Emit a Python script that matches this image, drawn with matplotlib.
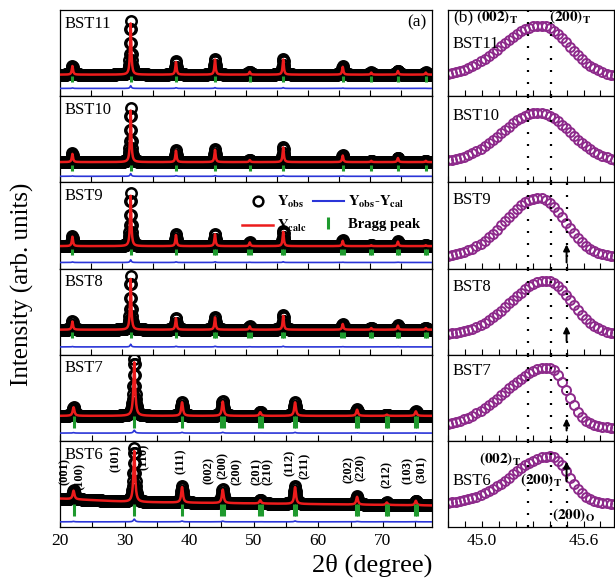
import numpy as np
import matplotlib
matplotlib.use("Agg")
import matplotlib.pyplot as plt
from matplotlib import ticker
from matplotlib.lines import Line2D

plt.rcParams["font.family"] = ["Liberation Serif", "DejaVu Serif"]
plt.rcParams["mathtext.fontset"] = "stix"

SAMPLES = ["BST11", "BST10", "BST9", "BST8", "BST7", "BST6"]

# ---- (a) full scans, heights in panel fraction ----
X_END = [80.0, 80.0, 80.0, 80.0, 77.6, 77.6]
PEAK_POS_A = [22.0, 31.4, 38.7, 45.0, 50.6, 56.0, 65.6, 70.2, 74.5, 79.0]
PEAK_POS_B = [22.1, 31.5, 38.9, 45.2, 51.0, 56.4, 66.0, 70.6, 75.1]
H_BST11 = [0.105, 0.625, 0.155, 0.185, 0.035, 0.185, 0.095, 0.025, 0.045, 0.025]
H_BST10 = [0.10, 0.63, 0.14, 0.15, 0.025, 0.18, 0.08, 0.015, 0.05, 0.015]
H_BST9 = [0.115, 0.615, 0.135, 0.145, 0.045, 0.175, 0.065, 0.01, 0.055, 0.01]
H_BST8 = [0.10, 0.62, 0.14, 0.15, 0.04, 0.17, 0.07, 0.02, 0.05, 0.02]
H_BST7 = [0.105, 0.655, 0.165, 0.175, 0.045, 0.165, 0.075, 0.015, 0.055]
H_BST6 = [0.105, 0.625, 0.19, 0.165, 0.04, 0.205, 0.095, 0.03, 0.055]
HEIGHTS = [H_BST11, H_BST10, H_BST9, H_BST8, H_BST7, H_BST6]
PEAK_W = [0.12, 0.12, 0.12, 0.12, 0.16, 0.16]
# background at 20 deg, 31 deg, end of scan
BG_START = [0.25, 0.235, 0.26, 0.29, 0.29, 0.33]
BG_MID = [0.25, 0.235, 0.26, 0.29, 0.29, 0.29]
BG_END = [0.25, 0.235, 0.26, 0.29, 0.29, 0.25]
DIFF_LEVEL = [0.09, 0.07, 0.07, 0.09, 0.09, 0.06]
BRAGG_Y = [0.20, 0.17, 0.195, 0.23, 0.22, 0.20]

BRAGG_CUBIC = [22.0, 31.4, 38.7, 45.0, 50.6, 56.0, 65.6, 70.2, 74.5, 79.0]
BRAGG_SPLIT_A = [22.0, 31.4, 38.7, 44.8, 45.15, 50.4, 50.8, 55.8, 56.2, 65.4, 65.8,
                 70.0, 70.4, 74.3, 74.7, 78.8, 79.2]
BRAGG_SPLIT_B = [22.1, 31.5, 38.9, 45.0, 45.35, 50.8, 51.2, 56.2, 56.6, 65.8, 66.2,
                 70.4, 70.8, 74.9, 75.3]
BRAGG = [BRAGG_CUBIC, BRAGG_CUBIC, BRAGG_SPLIT_A, BRAGG_SPLIT_A, BRAGG_SPLIT_B, BRAGG_SPLIT_B]

HKL_LABELS = ["(001)", "(100)", "(101)", "(110)", "(111)", "(002)", "(200)", "(200)",
              "(201)", "(210)", "(112)", "(211)", "(202)", "(220)", "(212)", "(103)", "(301)"]
HKL_X = [20.8, 23.1, 28.7, 32.9, 38.7, 43.1, 45.2, 47.4, 50.5, 52.2, 55.6, 57.9,
         64.7, 66.6, 70.6, 73.9, 76.0]
HKL_Y = [0.64, 0.59, 0.79, 0.81, 0.76, 0.65, 0.71, 0.64, 0.64, 0.64, 0.75, 0.71,
         0.67, 0.69, 0.61, 0.65, 0.67]

# ---- (b) zoom on the (002)/(200) region ----
R_BASE = [0.22, 0.23, 0.13, 0.23, 0.15, 0.27]
R_CEN = [45.345, 45.33, 45.335, 45.38, 45.39, 45.40]
R_HGT = [0.60, 0.58, 0.69, 0.63, 0.70, 0.55]
R_SIG_L = [0.23, 0.21, 0.20, 0.21, 0.25, 0.22]
R_SIG_R = [0.17, 0.19, 0.155, 0.15, 0.11, 0.11]
DOT_LINES = [45.27, 45.41]
ORTHO_LINE = 45.50
R_LABEL_Y = [0.60, 0.77, 0.80, 0.78, 0.81, 0.53]
ARROWS = {2: (0.07, 0.28), 3: (0.16, 0.33), 4: (0.12, 0.26), 5: (0.53, 0.76)}

RED = "#ec1c1c"
BLUE = "#2a35d8"
GREEN = "#1f9a2e"
PURPLE = "#8d2a8b"

fig = plt.figure(figsize=(6.15, 5.8), dpi=100)
TOP = 1 - 10 / 580
ROW_H = 517 / 580 / 6
LX, LW = 60 / 615, 372 / 615
RX, RW = 448 / 615, 166 / 615


def lorentz(x, pos, h, w):
    return h / (1 + ((x - pos) / w) ** 2)


for i, name in enumerate(SAMPLES):
    y0 = TOP - (i + 1) * ROW_H
    ax = fig.add_axes([LX, y0, LW, ROW_H])
    x = np.arange(20.0, X_END[i] + 0.01, 0.05)
    bg = np.interp(x, [20, 31, X_END[i]], [BG_START[i], BG_MID[i], BG_END[i]])
    pos = PEAK_POS_A if i < 4 else PEAK_POS_B
    obs = bg.copy()
    cal = bg.copy()
    for p, h in zip(pos, HEIGHTS[i]):
        obs += lorentz(x, p, h, PEAK_W[i])
        cal += lorentz(x, p, 0.95 * h, PEAK_W[i])
    ax.plot(x, obs, "o", ms=7.5, mfc="none", mec="black", mew=1.8, zorder=2)
    ax.plot(x, cal, color=RED, lw=1.8, zorder=3)
    ax.plot(x, obs - cal + DIFF_LEVEL[i], color=BLUE, lw=1.2, zorder=3)
    ax.plot(BRAGG[i], [BRAGG_Y[i]] * len(BRAGG[i]), "|", color=GREEN,
            ms=5 if i < 4 else 8, mew=2.2, zorder=4)
    ax.set_xlim(20, X_END[i])
    ax.set_ylim(0, 1)
    ax.set_yticks([])
    ax.xaxis.set_major_locator(ticker.MultipleLocator(10))
    ax.xaxis.set_minor_locator(ticker.MultipleLocator(5))
    ax.tick_params(axis="x", which="both", direction="in", length=4, width=0.8,
                   labelsize=12.5, pad=4)
    if i < 5:
        ax.tick_params(axis="x", labelbottom=False)
    ax.text(0.012, 0.84, name, transform=ax.transAxes, fontsize=12, va="center")
    for sp in ax.spines.values():
        sp.set_linewidth(0.9)

    if i == 0:
        ax.text(0.985, 0.86, "(a)", transform=ax.transAxes, fontsize=12.5,
                ha="right", va="center")
    if i == 2:
        handles = [
            Line2D([], [], ls="none", marker="o", ms=7, mfc="none", mec="black", mew=1.8),
            Line2D([], [], color=RED, lw=1.8),
            Line2D([], [], color=BLUE, lw=1.5),
            Line2D([], [], ls="none", marker="|", ms=8, mew=2.2, color=GREEN),
        ]
        labels = [r"$\mathbf{Y_{obs}}$", r"$\mathbf{Y_{calc}}$",
                  r"$\mathbf{Y_{obs}}$-$\mathbf{Y_{cal}}$", "Bragg peak"]
        ax.legend(handles, labels, ncol=2, loc="upper left", bbox_to_anchor=(0.455, 1.02),
                  frameon=False, prop={"weight": "bold", "size": 10.5},
                  handlelength=2.1, handletextpad=0.3, columnspacing=0.4,
                  labelspacing=0.55)
    if i == 5:
        for lab, hx, hy in zip(HKL_LABELS, HKL_X, HKL_Y):
            ax.text(hx, hy, lab, rotation=90, fontsize=9, fontweight="bold",
                    ha="center", va="center", transform=ax.get_xaxis_transform())

    # ---- right panel ----
    axr = fig.add_axes([RX, y0, RW, ROW_H])
    xr = np.arange(44.80, 45.80, 0.024)
    sig = np.where(xr < R_CEN[i], R_SIG_L[i], R_SIG_R[i])
    yr = R_BASE[i] + R_HGT[i] * np.exp(-0.5 * ((xr - R_CEN[i]) / sig) ** 2)
    axr.plot(xr, yr, "o", ms=6.5, mfc="none", mec=PURPLE, mew=1.4, zorder=2)
    lines = DOT_LINES + ([ORTHO_LINE] if i >= 2 else [])
    for lx in lines:
        axr.axvline(lx, color="black", lw=1.6, ls=(0, (0.9, 4.5)), zorder=3)
    if i in ARROWS:
        yb, yt = ARROWS[i]
        axr.annotate("", xy=(ORTHO_LINE, yt), xytext=(ORTHO_LINE, yb),
                     xycoords=("data", "axes fraction"),
                     textcoords=("data", "axes fraction"),
                     arrowprops=dict(arrowstyle="-|>", color="black", lw=1.4,
                                     mutation_scale=9, shrinkA=0, shrinkB=0),
                     zorder=4)
    axr.set_xlim(44.80, 45.78)
    axr.set_ylim(0, 1)
    axr.set_yticks([])
    axr.xaxis.set_major_locator(ticker.MultipleLocator(0.6))
    axr.xaxis.set_minor_locator(ticker.MultipleLocator(0.1))
    axr.xaxis.set_major_formatter(ticker.FormatStrFormatter("%.1f"))
    axr.tick_params(axis="x", which="both", direction="in", length=4, width=0.8,
                    labelsize=12.5, pad=4)
    if i < 5:
        axr.tick_params(axis="x", labelbottom=False)
    for sp in axr.spines.values():
        sp.set_linewidth(0.9)
    axr.text(0.03, R_LABEL_Y[i], name, transform=axr.transAxes, fontsize=12, va="center")
    if i == 0:
        axr.text(0.03, 0.92, "(b)", transform=axr.transAxes, fontsize=12.5, va="center")
        axr.text(45.09, 0.93, r"$\mathbf{(002)_T}$", fontsize=11, ha="center",
                 va="center", transform=axr.get_xaxis_transform(), zorder=5)
        axr.text(45.52, 0.93, r"$\mathbf{(200)_T}$", fontsize=11, ha="center",
                 va="center", transform=axr.get_xaxis_transform(), zorder=5)
    if i == 5:
        axr.text(45.11, 0.79, r"$\mathbf{(002)_T}$", fontsize=11, ha="center",
                 va="center", transform=axr.get_xaxis_transform(), zorder=5)
        axr.text(45.35, 0.55, r"$\mathbf{(200)_T}$", fontsize=11, ha="center",
                 va="center", transform=axr.get_xaxis_transform(), zorder=5)
        axr.text(45.54, 0.14, r"$\mathbf{(200)_O}$", fontsize=11, ha="center",
                 va="center", transform=axr.get_xaxis_transform(), zorder=5)

fig.text(0.605, 0.026, "2θ (degree)", fontsize=19, ha="center", va="center")
fig.text(0.036, 0.51, "Intensity (arb. units)", fontsize=18, rotation=90,
         ha="center", va="center")

fig.savefig("out.png", dpi=100)
